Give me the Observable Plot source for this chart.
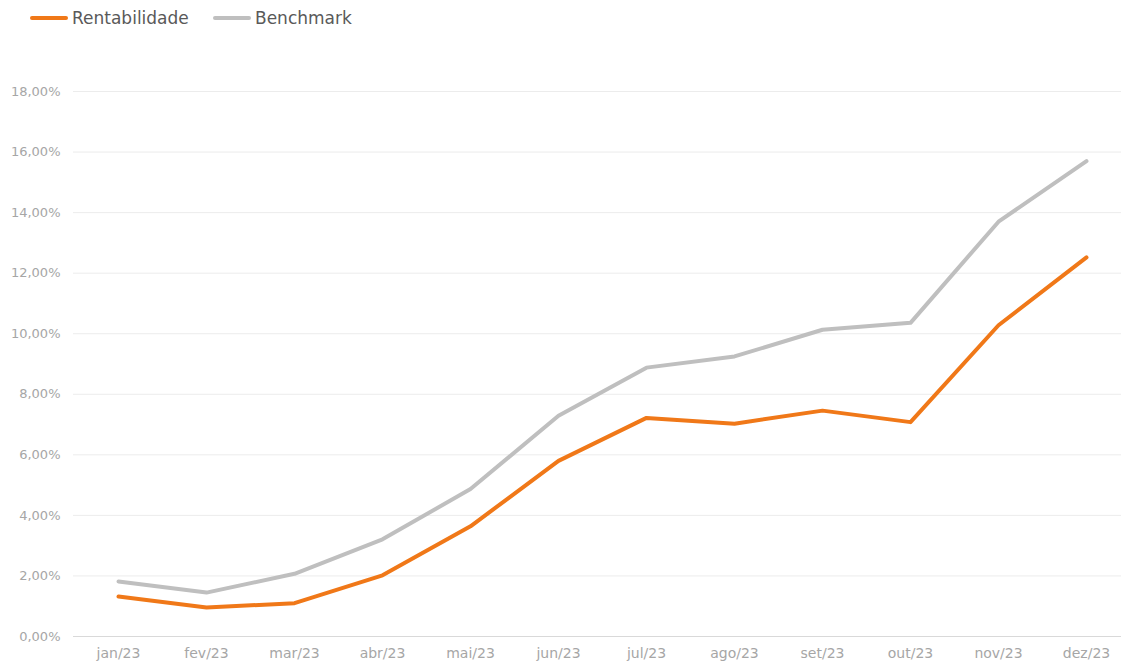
<!DOCTYPE html>
<html>
<head>
<meta charset="utf-8">
<script src="https://cdn.jsdelivr.net/npm/d3@7"></script>
<script src="https://cdn.jsdelivr.net/npm/@observablehq/plot@0.6"></script>
<style>
  html, body { margin: 0; padding: 0; background: #fff; }
  body { width: 1121px; height: 666px; overflow: hidden; font-family: "DejaVu Sans", sans-serif; }
  #legend { height: 40px; position: relative; }
  .item { position: absolute; top: 8px; display: flex; align-items: center; font-size: 17px; color: #595959; }
  .sw { width: 38px; height: 4px; border-radius: 2px; margin-right: 4px; }
</style>
</head>
<body>
<div id="legend"></div>
<div id="chart"></div>
<script>
const months = ["jan/23","fev/23","mar/23","abr/23","mai/23","jun/23","jul/23","ago/23","set/23","out/23","nov/23","dez/23"];
const rentabilidade = [1.32, 0.96, 1.10, 2.02, 3.64, 5.80, 7.22, 7.03, 7.46, 7.08, 10.28, 12.52];
const benchmark = [1.82, 1.45, 2.07, 3.21, 4.87, 7.29, 8.88, 9.25, 10.13, 10.36, 13.70, 15.70];
const yTicks = [0, 2, 4, 6, 8, 10, 12, 14, 16, 18];
const seriesNames = ["Rentabilidade", "Benchmark"];
const seriesColors = ["#f07818", "#bfbfbf"];

const data = [];
months.forEach((m, i) => {
  data.push({month: m, value: rentabilidade[i], series: seriesNames[0]});
  data.push({month: m, value: benchmark[i], series: seriesNames[1]});
});

const fmt = v => v.toFixed(2).replace(".", ",") + "%";

// legend
const legend = document.getElementById("legend");
const legendLeft = [30, 213];
seriesNames.forEach((s, i) => {
  const it = document.createElement("div");
  it.className = "item";
  it.style.left = legendLeft[i] + "px";
  it.innerHTML = `<span class="sw" style="background:${seriesColors[i]}"></span><span>${s}</span>`;
  legend.appendChild(it);
});

const chart = Plot.plot({
  width: 1121,
  height: 626,
  marginLeft: 73,
  marginRight: 0,
  marginTop: 51,
  marginBottom: 30,
  style: {fontFamily: "DejaVu Sans, sans-serif", fontSize: "13px", color: "#a6a6a6", background: "#fff"},
  x: {type: "point", domain: months, padding: 0, insetLeft: 40, insetRight: 31, label: null},
  y: {domain: [0, 18], ticks: yTicks, tickFormat: fmt, label: null},
  marks: [
    Plot.ruleY(yTicks.filter(d => d > 0), {stroke: "#ececec", strokeWidth: 1}),
    Plot.ruleY([0], {stroke: "#d9d9d9", strokeWidth: 1}),
    Plot.line(data.filter(d => d.series === "Benchmark"), {x: "month", y: "value", stroke: seriesColors[1], strokeWidth: 4, strokeLinecap: "round", strokeLinejoin: "round"}),
    Plot.line(data.filter(d => d.series === "Rentabilidade"), {x: "month", y: "value", stroke: seriesColors[0], strokeWidth: 4, strokeLinecap: "round", strokeLinejoin: "round"}),
    Plot.axisX({tickSize: 0, tickPadding: 12, fill: "#a6a6a6", fontSize: 14}),
    Plot.axisY({ticks: yTicks, tickFormat: fmt, tickSize: 0, tickPadding: 13, fill: "#a6a6a6", fontSize: 13})
  ]
});
document.getElementById("chart").appendChild(chart);
</script>
</body>
</html>
